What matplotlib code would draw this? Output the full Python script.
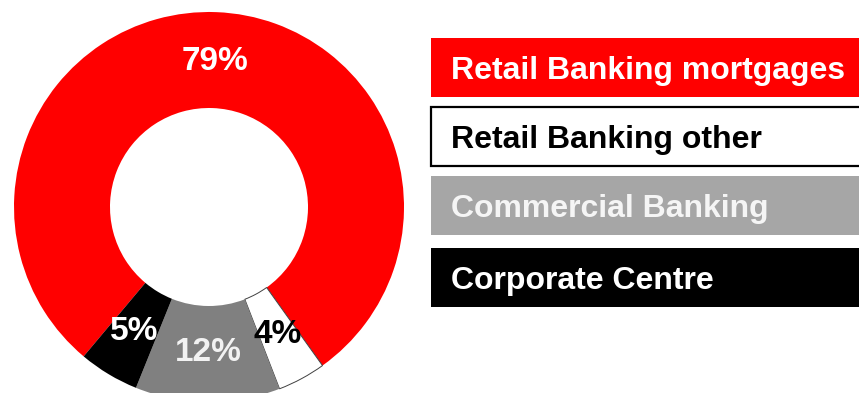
import matplotlib
matplotlib.use("Agg")
import matplotlib.pyplot as plt
from matplotlib.patches import Rectangle

plt.rcParams['font.family'] = ['Liberation Sans', 'DejaVu Sans']

# divisional split, clockwise from the red segment
segments = ["Retail Banking mortgages", "Retail Banking other", "Commercial Banking", "Corporate Centre"]
shares = [79, 4, 12, 5]
ring_colors = ["#FF0000", "#FFFFFF", "#808080", "#000000"]
pct_colors = ["#FFFFFF", "#000000", "#F2F2F2", "#FFFFFF"]

# legend key boxes (fill, text colour, border)
key_fill = ["#FF0000", "#FFFFFF", "#A6A6A6", "#000000"]
key_text = ["#FFFFFF", "#000000", "#F5F5F5", "#FFFFFF"]
key_edge = [None, "#000000", None, None]

W, H = 859, 393
fig = plt.figure(figsize=(W / 100, H / 100), dpi=100)
ax = fig.add_axes([0, 0, 1, 1])

wedges, _, pcts = ax.pie(
    shares, colors=ring_colors, startangle=230, counterclock=False,
    center=(209, H - 207), radius=195,
    wedgeprops=dict(width=96, linewidth=0),
    autopct='%d%%', pctdistance=0.745,
    textprops=dict(fontsize=24, fontweight='bold'))

# thin outline only on the white slice
wedges[1].set_edgecolor('#404040')
wedges[1].set_linewidth(0.7)

for t, c in zip(pcts, pct_colors):
    t.set_color(c)

# key on the right
box_x, box_w, box_h = 431, 440, 59
box_tops = [38, 107, 176, 248]
for name, top, fc, tc, ec in zip(segments, box_tops, key_fill, key_text, key_edge):
    y0 = H - top - box_h
    if ec:
        ax.add_patch(Rectangle((box_x, y0), box_w, box_h, facecolor=fc,
                               edgecolor=ec, linewidth=1.6))
    else:
        ax.add_patch(Rectangle((box_x, y0), box_w, box_h, facecolor=fc,
                               linewidth=0))
    ax.text(451, y0 + box_h / 2, name, color=tc, fontsize=23,
            fontweight='bold', ha='left', va='center_baseline')

ax.set_xlim(0, W)
ax.set_ylim(0, H)
ax.set_aspect('auto')
ax.axis('off')

fig.savefig("out.png", dpi=100)
